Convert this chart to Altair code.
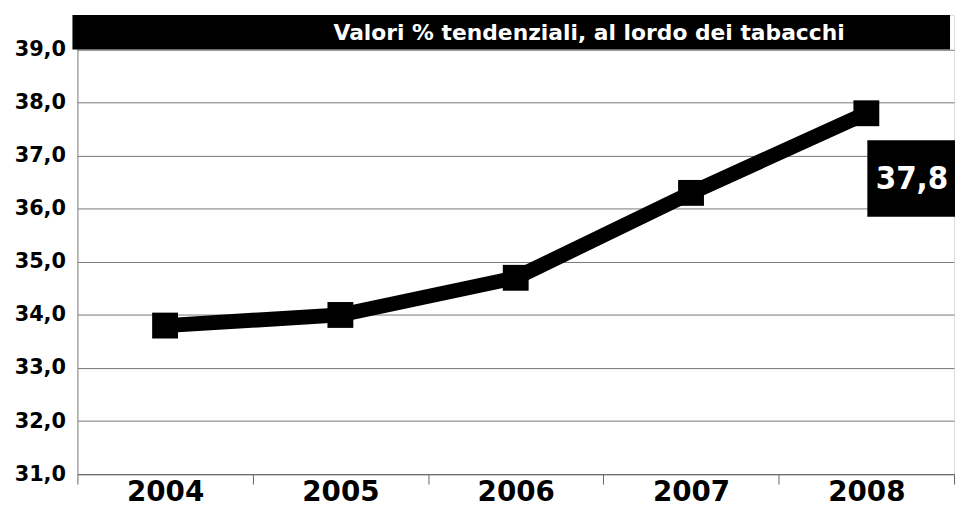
import altair as alt
import pandas as pd

years = ["2004", "2005", "2006", "2007", "2008"]
values = [33.8, 34.0, 34.7, 36.3, 37.8]
y_ticks = [31, 32, 33, 34, 35, 36, 37, 38, 39]
title_text = "Valori % tendenziali, al lordo dei tabacchi"

df = pd.DataFrame({"year": years, "value": values})
last = df.tail(1)

W, H = 884, 463
Y_TOP = 39.65

x_enc = alt.X(
    "year:O",
    scale=alt.Scale(type="band", paddingInner=0, paddingOuter=0),
    axis=alt.Axis(
        title=None, labelAngle=0, labelFont="DejaVu Sans", labelFontWeight="bold",
        labelFontSize=28, labelColor="black", tickBand="extent", tickSize=10,
        tickColor="#666", domainColor="#666", labelPadding=-5, grid=False,
        labelBaseline="top",
    ),
)
y_scale = alt.Scale(domain=[31, Y_TOP], nice=False, zero=False)
y_enc = alt.Y(
    "value:Q",
    scale=y_scale,
    axis=alt.Axis(
        title=None, values=y_ticks,
        labelExpr="replace(format(datum.value, '.1f'), '.', ',')",
        labelFont="DejaVu Sans", labelFontWeight="bold", labelFontSize=21,
        labelColor="black", ticks=False, labelPadding=12,
        grid=True, gridColor="#777", gridWidth=1,
        domainColor="#888", domainWidth=1,
    ),
)

base = alt.Chart(df)

line = base.mark_line(color="black", strokeWidth=15, strokeCap="butt", strokeJoin="miter").encode(x=x_enc, y=y_enc)
points = base.mark_square(color="black", size=680, opacity=1).encode(x="year:O", y="value:Q")

bar = alt.Chart(pd.DataFrame({"t": [title_text]})).mark_rect(color="black").encode(
    x=alt.value(-5), x2=alt.value(880), y=alt.datum(Y_TOP), y2=alt.datum(39)
)
bar_text = alt.Chart(pd.DataFrame({"t": [title_text]})).mark_text(
    color="white", font="DejaVu Sans", fontWeight="bold", fontSize=22,
    align="center", baseline="middle",
).encode(text="t:N", x=alt.value(516), y=alt.datum(39.31))

box = alt.Chart(last).mark_point(
    shape="M-1,-0.856H1V0.856H-1Z", size=8100, filled=True, color="black",
    opacity=1, xOffset=46,
).encode(x="year:O", y=alt.datum(36.57))
box_text = alt.Chart(last).transform_calculate(
    label="replace(format(datum.value, '.1f'), '.', ',')"
).mark_text(
    color="white", font="DejaVu Sans Condensed", fontWeight="bold",
    fontSize=33, align="center", baseline="middle", xOffset=46, dy=1,
).encode(x="year:O", y=alt.datum(36.57), text="label:N")

chart = alt.layer(line, points, bar, bar_text, box, box_text).properties(
    width=W, height=H,
    autosize=alt.AutoSizeParams(type="none"),
    padding={"left": 70, "top": 5, "right": 1, "bottom": 36},
).configure_view(stroke=None).configure(background="white")

chart.save("out.html", embed_options={"renderer": "svg", "actions": False})
